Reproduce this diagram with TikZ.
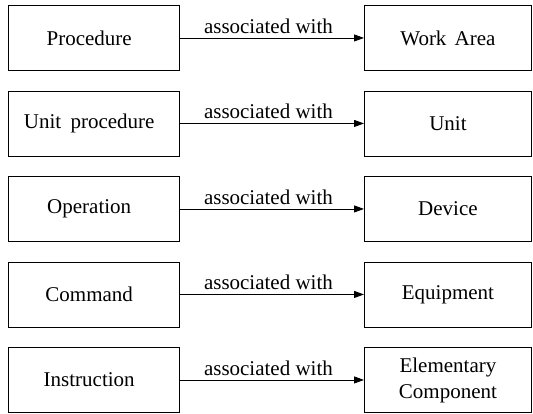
\documentclass[tikz,border=0pt]{standalone}
\usepackage{fontspec}
\setmainfont{Liberation Serif}
\usetikzlibrary{arrows.meta}
\begin{document}
\begin{tikzpicture}[x=1pt,y=-1pt,
  lbox/.style={draw, line width=0.9pt, inner sep=0pt, anchor=north west,
    minimum width=171.5pt, minimum height=65pt, align=center,
    font=\fontsize{21}{26}\selectfont},
  rbox/.style={lbox, minimum width=167pt},
  assoc/.style={draw, line width=0.9pt, -{Triangle[length=10pt,width=7pt]}},
  lbl/.style={above, inner sep=4pt, pos=0.481, font=\fontsize{21}{26}\selectfont}
]
\useasboundingbox (0,0) rectangle (533,413);
\foreach \i/\l/\r in {0/Procedure/Work\hspace{3pt} Area,
                      1/Unit\hspace{4pt} procedure/Unit,
                      2/Operation/Device,
                      3/Command/Equipment,
                      4/Instruction/Elementary\\Component}{
  \node[lbox] (L\i) at (7.5, 5+85.5*\i) {\l\hspace*{9pt}};
  \node[rbox] (R\i) at (364, 5+85.5*\i) {\r};
  \draw[assoc] (L\i.east) -- (R\i.west) node[lbl] {associated with};
}
\end{tikzpicture}
\end{document}
